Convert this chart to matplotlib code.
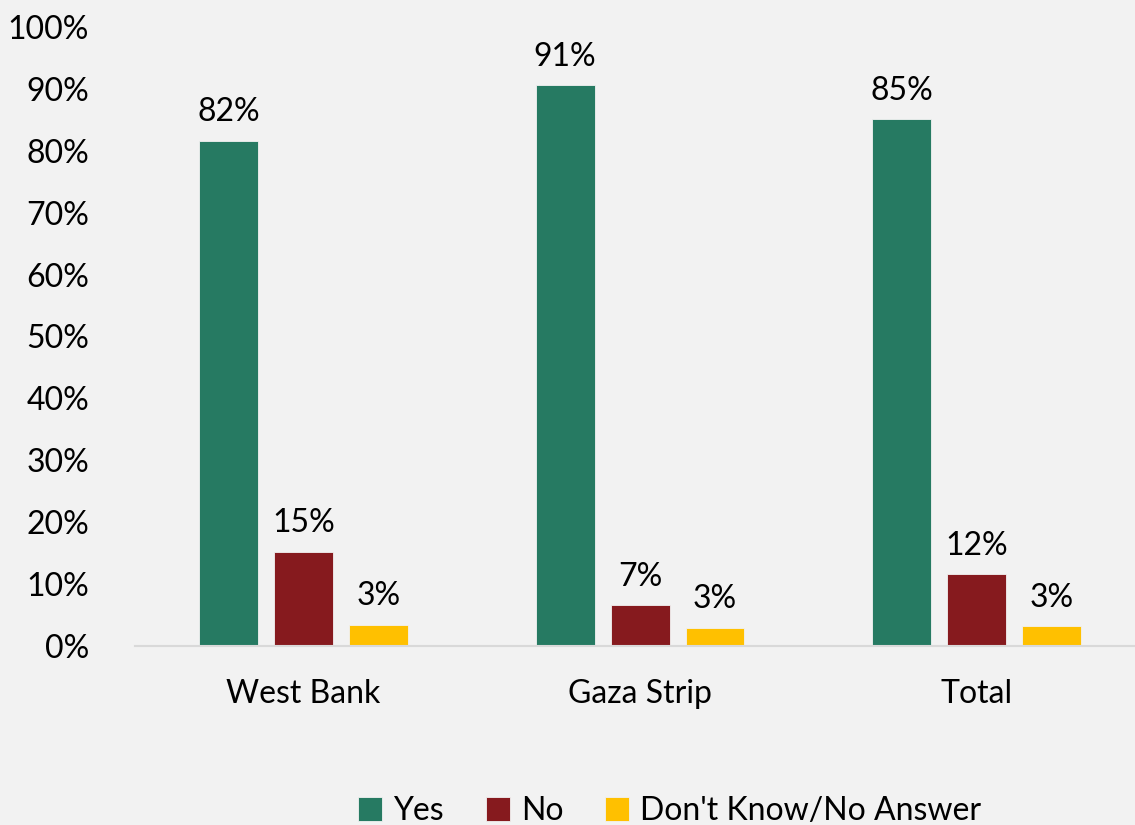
import numpy as np
import matplotlib.pyplot as plt

categories = ["West Bank", "Gaza Strip", "Total"]
series = ["Yes", "No", "Don't Know/No Answer"]
yes_vals = [81.6, 90.6, 85.1]
no_vals = [15.2, 6.6, 11.6]
dk_vals = [3.4, 2.9, 3.2]
colors = ["#267a62", "#861a1e", "#ffc000"]

plt.rcParams['font.family'] = ['Lato', 'DejaVu Sans']

fig = plt.figure(figsize=(11.35, 8.25), dpi=100)
fig.patch.set_facecolor("#f2f2f2")
ax = fig.add_axes([135/1135, 179/825, 1000/1135, 619/825])
ax.set_facecolor("#f2f2f2")

x = np.arange(len(categories))
step = 0.2226
width = 0.175
for i, (name, vals) in enumerate(zip(series, [yes_vals, no_vals, dk_vals])):
    pos = x + (i - 1) * step
    bars = ax.bar(pos, vals, width, color=colors[i], label=name,
                  edgecolor="#f2f2f2", linewidth=0.6)
    for b, v in zip(bars, vals):
        ax.text(b.get_x() + b.get_width() / 2, v + 2.2, f"{round(v)}%",
                ha="center", va="bottom", fontsize=23)

ax.set_xlim(-0.5, 2.47)
ax.set_ylim(0, 100)
ax.set_yticks(np.arange(0, 101, 10))
ax.set_yticklabels([f"{t}%" for t in range(0, 101, 10)], fontsize=23)
ax.set_xticks(x)
ax.set_xticklabels(categories, fontsize=23)
ax.tick_params(axis="y", length=0, pad=33)
ax.tick_params(axis="x", length=0, pad=24)
for s in ["top", "right", "left"]:
    ax.spines[s].set_visible(False)
ax.spines["bottom"].set_color("#d9d9d9")
ax.spines["bottom"].set_linewidth(1.5)

fig.legend(loc="lower center", bbox_to_anchor=(0.59, -0.036), ncol=3,
           frameon=False, fontsize=23, handlelength=0.75, handleheight=0.75,
           handletextpad=0.35, columnspacing=1.3)

fig.savefig("out.png", dpi=100, facecolor=fig.get_facecolor())
